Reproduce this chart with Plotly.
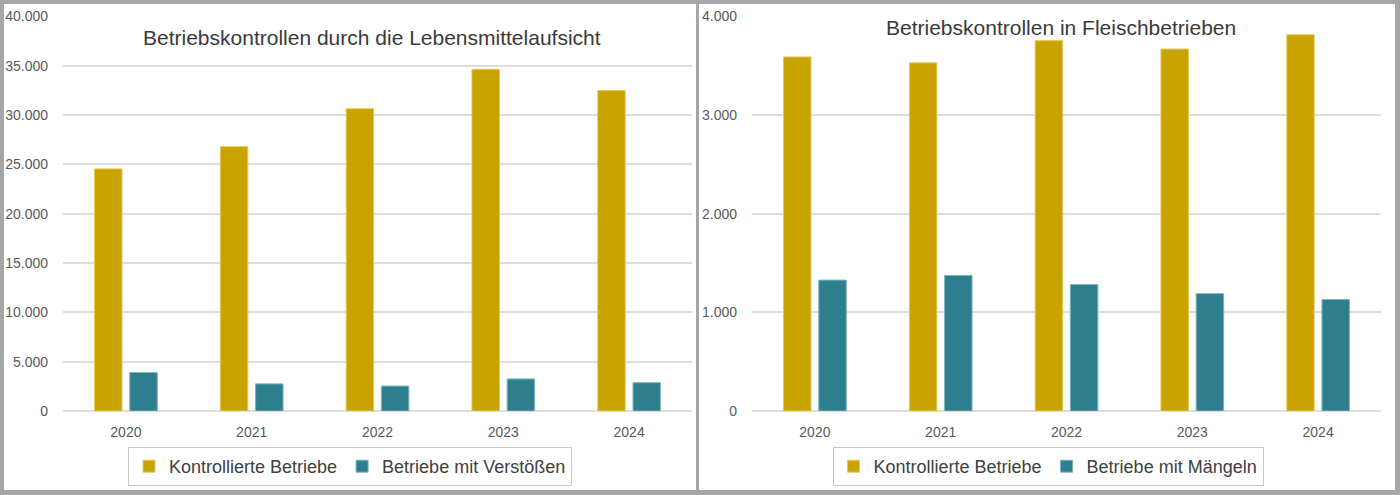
import plotly.graph_objects as go

years = ["2020", "2021", "2022", "2023", "2024"]
left_kontrolliert = [24550, 26800, 30650, 34650, 32500]
left_verstoesse = [3900, 2750, 2530, 3250, 2870]
right_kontrolliert = [3590, 3530, 3755, 3670, 3815]
right_maengel = [1327, 1375, 1282, 1190, 1130]

left_title = "Betriebskontrollen durch die Lebensmittelaufsicht"
right_title = "Betriebskontrollen in Fleischbetrieben"
name_k = "Kontrollierte Betriebe"
name_v = "Betriebe mit Verstößen"
name_m = "Betriebe mit Mängeln"

GOLD = "#C9A300"
TEAL = "#2E7F8D"
W, H = 1400, 495
FONT = "Liberation Sans"

def px(x):
    return x / W

def py(y):
    return 1 - y / H

fig = go.Figure()
fig.add_trace(go.Bar(x=years, y=left_kontrolliert, name=name_k, marker=dict(color=GOLD, line=dict(color="#E3C95A", width=1)),
                     xaxis="x", yaxis="y", legend="legend"))
fig.add_trace(go.Bar(x=years, y=left_verstoesse, name=name_v, marker=dict(color=TEAL, line=dict(color="#7DB3BC", width=1)),
                     xaxis="x", yaxis="y", legend="legend"))
fig.add_trace(go.Bar(x=years, y=right_kontrolliert, name=name_k, marker=dict(color=GOLD, line=dict(color="#E3C95A", width=1)),
                     xaxis="x2", yaxis="y2", legend="legend2"))
fig.add_trace(go.Bar(x=years, y=right_maengel, name=name_m, marker=dict(color=TEAL, line=dict(color="#7DB3BC", width=1)),
                     xaxis="x2", yaxis="y2", legend="legend2"))

ydom = [py(411), py(16.5)]
common_x = dict(type="category", showgrid=False, zeroline=False, showline=False, ticks="", automargin=False,
                tickfont=dict(family=FONT, size=14, color="#595959"), ticklabelstandoff=11, fixedrange=True)
common_y = dict(showgrid=True, gridcolor="#DDDDDD", gridwidth=1.5, zeroline=True, zerolinecolor="#DDDDDD",
                zerolinewidth=1.5, showline=False, ticks="", tickformat=",.0f", automargin=False,
                tickfont=dict(family=FONT, size=14, color="#595959"), ticklabelstandoff=14)

legend_common = dict(orientation="h", xanchor="center", yanchor="top", bordercolor="#C8C8C8", borderwidth=1,
                     bgcolor="white", font=dict(family=FONT, size=18, color="#404040"),
                     itemwidth=30, tracegroupgap=0)

fig.update_layout(
    width=W, height=H, margin=dict(l=0, r=0, t=0, b=0, autoexpand=False),
    paper_bgcolor="white", plot_bgcolor="white",
    separators=",.",
    barmode="group", bargap=0.44, bargroupgap=0.22,
    xaxis=dict(domain=[px(63), px(692)], anchor="y", **common_x),
    yaxis=dict(domain=ydom, anchor="x", range=[0, 40000], dtick=5000, **common_y),
    xaxis2=dict(domain=[px(752), px(1381)], anchor="y2", **common_x),
    yaxis2=dict(domain=ydom, anchor="x2", range=[0, 4000], dtick=1000, **common_y),
    legend=dict(x=px(350), y=py(447), **legend_common),
    legend2=dict(x=px(1048), y=py(447), **legend_common),
    annotations=[
        dict(text=left_title, x=px(372), y=py(37), xref="paper", yref="paper", showarrow=False,
             xanchor="center", yanchor="middle", font=dict(family=FONT, size=21, color="#3A3A3A")),
        dict(text=right_title, x=px(1061), y=py(27), xref="paper", yref="paper", showarrow=False,
             xanchor="center", yanchor="middle", font=dict(family=FONT, size=21, color="#3A3A3A")),
    ],
)

BORDER = "#A6A6A6"
rects = [
    (0, 0, W, 4),        # top
    (0, H - 5, W, H),    # bottom
    (0, 0, 4, H),        # left
    (W - 5, 0, W, H),    # right
    (696, 0, 699, H),    # divider
]
for x0, y0, x1, y1 in rects:
    fig.add_shape(type="rect", xref="paper", yref="paper", x0=px(x0), x1=px(x1), y0=py(y1), y1=py(y0),
                  fillcolor=BORDER, line=dict(width=0), layer="above")

fig.write_html("out.html")
